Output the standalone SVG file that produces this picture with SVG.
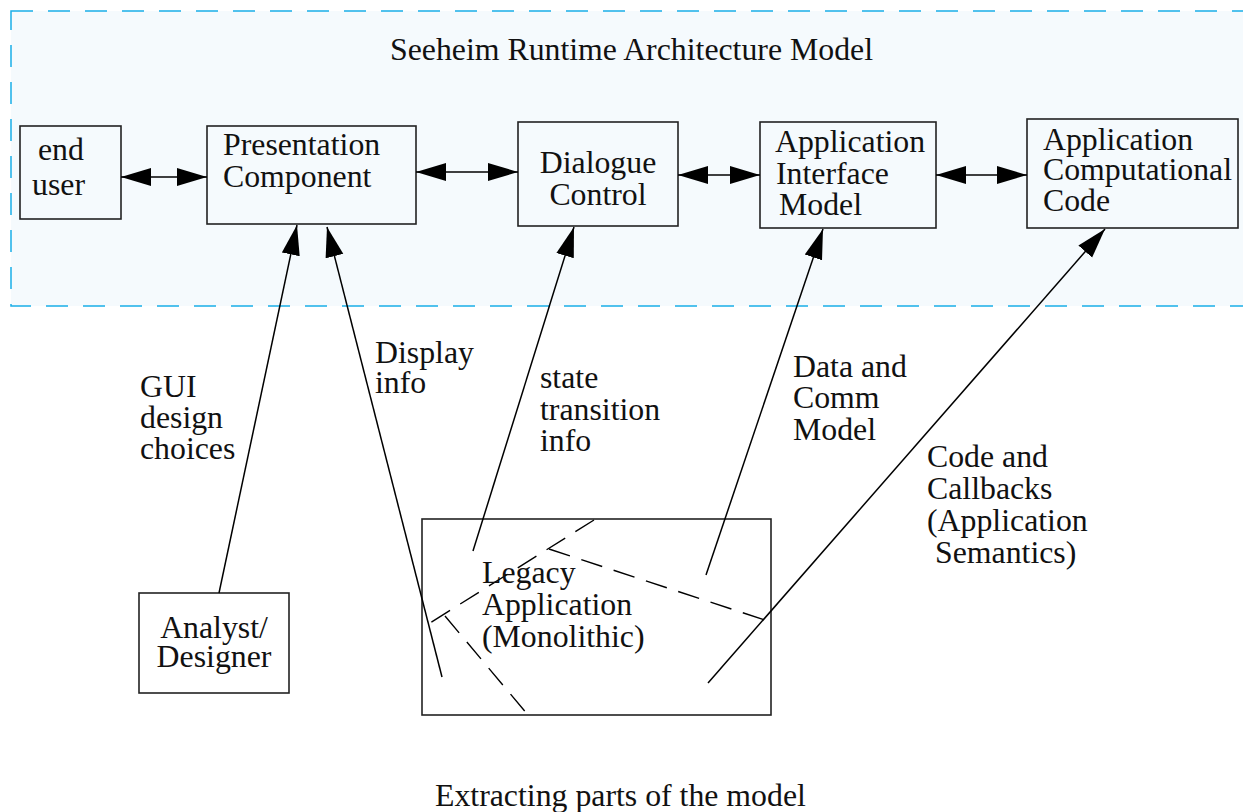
<svg xmlns="http://www.w3.org/2000/svg" width="1243" height="812" viewBox="0 0 1243 812">
<style>
  text { font-family: "Liberation Serif", "Times New Roman", serif; font-size: 31.8px; fill: #111; }
  .box { fill: none; stroke: #222; stroke-width: 1.6; }
  .conn { stroke: #000; stroke-width: 1.5; fill: none; }
  .dash { stroke: #000; stroke-width: 1.4; fill: none; stroke-dasharray: 22 12; }
</style>
<defs>
  <marker id="ah" markerUnits="userSpaceOnUse" markerWidth="30" markerHeight="20" viewBox="0 0 28 17" refX="28" refY="8.5" orient="auto-start-reverse">
    <path d="M0,0 L28,8.5 L0,17 z" fill="#000"/>
  </marker>
</defs>
<rect width="1243" height="812" fill="#fff"/>
<g id="frame">
  <rect x="11" y="11" width="1250" height="295" fill="#f5fafd" stroke="#1aaee8" stroke-width="1.5" stroke-dasharray="22 15"/>
  <text x="390" y="60">Seeheim Runtime Architecture Model</text>
</g>
<g id="end-user">
  <rect class="box" x="20" y="126" width="101" height="93"/>
  <text x="38" y="160">end</text>
  <text x="32" y="195">user</text>
</g>
<g id="presentation">
  <rect class="box" x="207" y="126" width="209" height="98"/>
  <text x="223" y="155">Presentation</text>
  <text x="223" y="187">Component</text>
</g>
<g id="dialogue">
  <rect class="box" x="518" y="122" width="160" height="104"/>
  <text x="598" y="173" text-anchor="middle">Dialogue</text>
  <text x="598" y="205" text-anchor="middle">Control</text>
</g>
<g id="aim">
  <rect class="box" x="760" y="122" width="176" height="106"/>
  <text x="775" y="152">Application</text>
  <text x="776" y="184">Interface</text>
  <text x="779" y="215">Model</text>
</g>
<g id="acc">
  <rect class="box" x="1027" y="119" width="211" height="109"/>
  <text x="1043" y="150">Application</text>
  <text x="1043" y="180">Computational</text>
  <text x="1043" y="211">Code</text>
</g>
<g id="analyst">
  <rect class="box" x="139" y="593" width="150" height="100"/>
  <text x="214" y="638" text-anchor="middle">Analyst/</text>
  <text x="214" y="667" text-anchor="middle">Designer</text>
</g>
<g id="legacy">
  <rect class="box" x="422" y="519" width="349" height="196"/>
  <line class="dash" x1="594" y1="520" x2="422" y2="628"/>
  <line class="dash" x1="549" y1="549" x2="771" y2="622"/>
  <line class="dash" x1="445" y1="616" x2="528" y2="715"/>
  <text x="482" y="583">Legacy</text>
  <text x="482" y="615">Application</text>
  <text x="482" y="647">(Monolithic)</text>
</g>
<g id="connectors">
  <line class="conn" x1="121" y1="177" x2="207" y2="177" marker-start="url(#ah)" marker-end="url(#ah)"/>
  <line class="conn" x1="416" y1="172" x2="518" y2="172" marker-start="url(#ah)" marker-end="url(#ah)"/>
  <line class="conn" x1="678" y1="175" x2="760" y2="175" marker-start="url(#ah)" marker-end="url(#ah)"/>
  <line class="conn" x1="936" y1="175" x2="1027" y2="175" marker-start="url(#ah)" marker-end="url(#ah)"/>
  <line class="conn" x1="219" y1="593" x2="297" y2="225" marker-end="url(#ah)"/>
  <line class="conn" x1="442" y1="677" x2="327" y2="227" marker-end="url(#ah)"/>
  <line class="conn" x1="473" y1="551" x2="574" y2="227" marker-end="url(#ah)"/>
  <line class="conn" x1="706" y1="575" x2="823" y2="229" marker-end="url(#ah)"/>
  <line class="conn" x1="708" y1="683" x2="1105" y2="229" marker-end="url(#ah)"/>
</g>
<g id="labels">
  <text x="140" y="397">GUI</text>
  <text x="140" y="428">design</text>
  <text x="140" y="459">choices</text>
  <text x="375" y="363">Display</text>
  <text x="375" y="393">info</text>
  <text x="540" y="388">state</text>
  <text x="540" y="420">transition</text>
  <text x="540" y="451">info</text>
  <text x="793" y="377">Data and</text>
  <text x="793" y="408">Comm</text>
  <text x="793" y="440">Model</text>
  <text x="927" y="467">Code and</text>
  <text x="927" y="499">Callbacks</text>
  <text x="927" y="531">(Application</text>
  <text x="935" y="563">Semantics)</text>
  <text x="435" y="806">Extracting parts of the model</text>
</g>
</svg>
